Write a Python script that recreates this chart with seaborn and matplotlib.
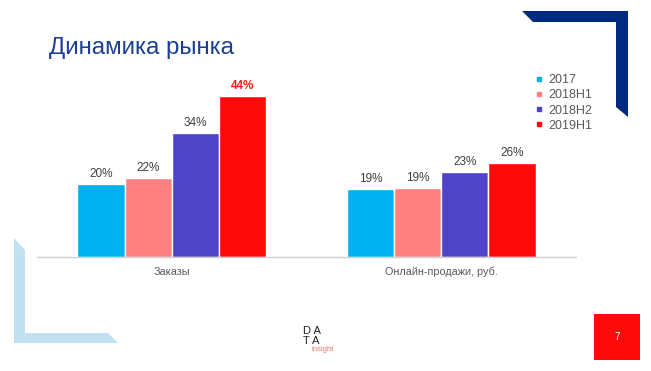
import matplotlib
matplotlib.use('Agg')
import matplotlib.pyplot as plt
from matplotlib.lines import Line2D
from matplotlib.patches import Polygon, Rectangle
import seaborn as sns
import pandas as pd

# chart data
categories = ['Заказы', 'Онлайн-продажи, руб.']
periods = ['2017', '2018H1', '2018H2', '2019H1']
values_2017 = [20.0, 18.6]
values_2018h1 = [21.6, 18.9]
values_2018h2 = [33.7, 23.2]
values_2019h1 = [44.0, 25.7]
colors = ['#00b0f0', '#ff8080', '#4f44c8', '#ff0a0a']

series = [values_2017, values_2018h1, values_2018h2, values_2019h1]
df = pd.DataFrame({
    'Category': [c for _ in periods for c in categories],
    'Period': [p for p in periods for _ in categories],
    'Value': [v for s in series for v in s],
})

sns.set_style('white')
plt.rcParams['font.family'] = ['Liberation Sans', 'DejaVu Sans']

W, H = 651, 371
fig = plt.figure(figsize=(W / 100, H / 100), dpi=100)

# slide decorations in pixel coordinates
deco = fig.add_axes([0, 0, 1, 1], zorder=0)
deco.set_xlim(0, W)
deco.set_ylim(H, 0)
deco.axis('off')
deco.add_patch(Polygon([(522, 11), (628, 11), (628, 117), (616, 107), (616, 22), (533, 22)],
                       closed=True, color='#002a80', lw=0))
deco.add_patch(Polygon([(14, 238), (25, 250), (25, 333), (108, 333), (118, 343), (14, 343)],
                       closed=True, color='#c0e1ef', lw=0))
deco.add_patch(Rectangle((594, 314), 46, 46, color='#ff0a0a', lw=0))
deco.text(617, 337, '7', color='white', fontsize=7, ha='center', va='center')
deco.text(49, 48, 'Динамика рынка', color='#1b3f93', fontsize=17.3, ha='left', va='center')
deco.text(303, 331, 'D A', color='#222222', fontsize=8, ha='left', va='center')
deco.text(303, 341, 'T A', color='#222222', fontsize=8, ha='left', va='center')
deco.text(312, 349.5, 'insight', color='#e8766a', fontsize=5.5, ha='left', va='center')

ax = fig.add_axes([37 / W, (H - 257) / H, 539 / W, 183.3 / H], zorder=1)
ax.patch.set_alpha(0)
sns.barplot(data=df, x='Category', y='Value', hue='Period', palette=colors, saturation=1,
            width=0.7, edgecolor='white', linewidth=1, legend=False, ax=ax)
ax.set_xlim(-0.5, 1.5)
ax.set_ylim(0, 50)

top = max(max(s) for s in series)
for cont in ax.containers:
    for bar in cont:
        v = bar.get_height()
        bold = v == top
        ax.annotate(f'{v:.0f}%', (bar.get_x() + bar.get_width() / 2, v),
                    xytext=(0, 3), textcoords='offset points', ha='center', va='bottom',
                    fontsize=8.5, color='#ff1a1a' if bold else '#404040',
                    fontweight='bold' if bold else 'normal')

for s in ['top', 'right', 'left']:
    ax.spines[s].set_visible(False)
ax.spines['bottom'].set_color('#d0d0d0')
ax.spines['bottom'].set_linewidth(1)
ax.set_xlabel('')
ax.set_ylabel('')
ax.set_yticks([])
ax.tick_params(axis='x', length=0, pad=7, labelsize=7.8, labelcolor='#595959')

handles = [Line2D([], [], marker='s', linestyle='', color=c, markersize=3.5) for c in colors]
fig.legend(handles, periods, loc='upper left', bbox_to_anchor=(535 / W, (H - 74) / H),
           frameon=False, fontsize=9, labelcolor='#595959', borderpad=0, borderaxespad=0,
           handlelength=0.7, handletextpad=0.35, labelspacing=0.26)

fig.savefig('out.png', dpi=100)
